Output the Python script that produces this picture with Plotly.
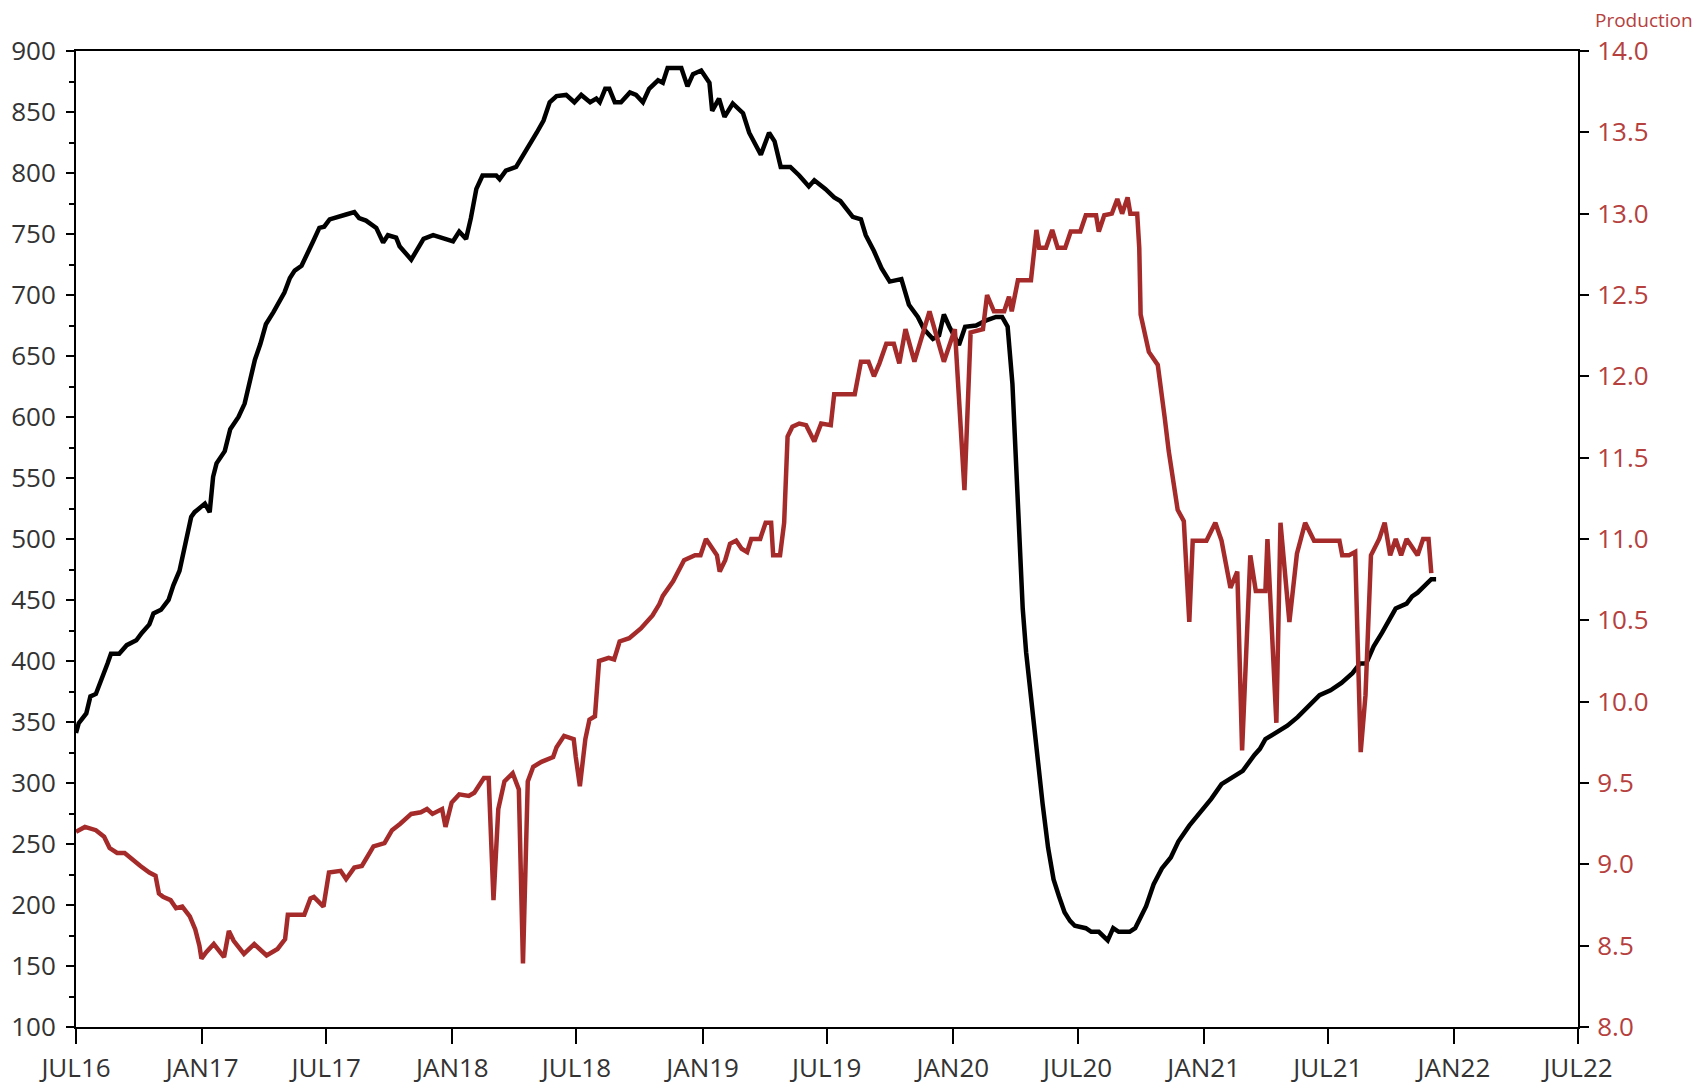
import plotly.graph_objects as go

# ---- Data ----
rig_dates = [
    "2016-07-01", "2016-07-05", "2016-07-16", "2016-07-22", "2016-07-30", "2016-08-08", "2016-08-16",
    "2016-08-21", "2016-09-02", "2016-09-13", "2016-09-27", "2016-10-05", "2016-10-16", "2016-10-22",
    "2016-11-02", "2016-11-13", "2016-11-20", "2016-11-29", "2016-12-07", "2016-12-16", "2016-12-21",
    "2017-01-05", "2017-01-12", "2017-01-17", "2017-01-22", "2017-02-03", "2017-02-11", "2017-02-23",
    "2017-03-04", "2017-03-11", "2017-03-19", "2017-03-27", "2017-04-04", "2017-04-15", "2017-04-24",
    "2017-05-01", "2017-05-09", "2017-05-16", "2017-05-26", "2017-06-02", "2017-06-12", "2017-06-21",
    "2017-06-28", "2017-07-06", "2017-07-16", "2017-07-30", "2017-08-11", "2017-08-18", "2017-08-28",
    "2017-09-12", "2017-09-22", "2017-09-29", "2017-10-11", "2017-10-16", "2017-11-02", "2017-11-20",
    "2017-12-04", "2018-01-02", "2018-01-11", "2018-01-21", "2018-01-28", "2018-02-05", "2018-02-14",
    "2018-03-06", "2018-03-11", "2018-03-20", "2018-04-04", "2018-04-21", "2018-05-04", "2018-05-14",
    "2018-05-23", "2018-06-02", "2018-06-16", "2018-06-28", "2018-07-08", "2018-07-21", "2018-07-30",
    "2018-08-04", "2018-08-12", "2018-08-18", "2018-08-26", "2018-09-04", "2018-09-17", "2018-09-26",
    "2018-10-06", "2018-10-15", "2018-10-28", "2018-11-04", "2018-11-11", "2018-11-24", "2018-12-01",
    "2018-12-10", "2018-12-18", "2018-12-30", "2019-01-11", "2019-01-15", "2019-01-25", "2019-02-02",
    "2019-02-14", "2019-03-01", "2019-03-10", "2019-03-27", "2019-04-08", "2019-04-16", "2019-04-25",
    "2019-05-09", "2019-05-22", "2019-06-05", "2019-06-13", "2019-06-29", "2019-07-12", "2019-07-21",
    "2019-08-08", "2019-08-20", "2019-08-27", "2019-09-08", "2019-09-19", "2019-10-01", "2019-10-18",
    "2019-10-29", "2019-11-11", "2019-11-20", "2019-12-03", "2019-12-12", "2019-12-19", "2019-12-27",
    "2020-01-10", "2020-01-19", "2020-02-04", "2020-02-18", "2020-03-04", "2020-03-13", "2020-03-21",
    "2020-03-28", "2020-04-02", "2020-04-06", "2020-04-12", "2020-04-17", "2020-04-25", "2020-05-03",
    "2020-05-11", "2020-05-19", "2020-05-27", "2020-06-04", "2020-06-12", "2020-06-20", "2020-06-27",
    "2020-07-13", "2020-07-21", "2020-08-01", "2020-08-14", "2020-08-22", "2020-08-30", "2020-09-15",
    "2020-09-23", "2020-10-01", "2020-10-09", "2020-10-20", "2020-11-01", "2020-11-14", "2020-11-25",
    "2020-12-11", "2020-12-27", "2021-01-12", "2021-01-27", "2021-02-12", "2021-02-27", "2021-03-16",
    "2021-03-24", "2021-04-01", "2021-04-17", "2021-05-03", "2021-05-18", "2021-06-03", "2021-06-19",
    "2021-07-05", "2021-07-21", "2021-08-06", "2021-08-17", "2021-08-26", "2021-09-06", "2021-09-18",
    "2021-09-30", "2021-10-08", "2021-10-24", "2021-11-01", "2021-11-09", "2021-11-20", "2021-11-29",
    "2021-12-06",
]
rig_count = [
    341, 349, 357, 371, 373, 385, 398,
    406, 406, 413, 417, 423, 430, 439,
    442, 450, 462, 474, 496, 518, 522,
    529, 522, 551, 562, 572, 590, 600,
    611, 629, 647, 660, 676, 686, 695,
    702, 714, 720, 724, 733, 744, 755,
    756, 762, 764, 766, 768, 763, 761,
    755, 743, 749, 747, 740, 729, 746,
    749, 744, 752, 746, 763, 787, 798,
    798, 795, 802, 805, 820, 833, 843,
    858, 863, 864, 858, 864, 858, 861,
    858, 869, 869, 858, 858, 866, 864,
    858, 869, 876, 874, 886, 886, 886,
    871, 881, 884, 874, 851, 861, 846,
    857, 849, 833, 815, 833, 826, 805,
    805, 798, 789, 794, 787, 780, 777,
    764, 762, 749, 736, 722, 711, 713,
    692, 682, 672, 664, 667, 684, 674,
    659, 674, 675, 679, 682, 682, 674,
    627, 567, 505, 443, 407, 363, 318,
    283, 247, 221, 207, 194, 187, 183,
    181, 178, 178, 171, 181, 178, 178,
    181, 190, 199, 217, 230, 239, 252,
    265, 276, 287, 299, 305, 310, 323,
    328, 336, 341, 347, 354, 363, 372,
    376, 382, 390, 398, 398, 412, 423,
    434, 443, 447, 453, 456, 462, 467,
    467,
]

prod_dates = [
    "2016-07-01", "2016-07-14", "2016-07-30", "2016-08-11", "2016-08-19", "2016-08-30", "2016-09-10",
    "2016-09-21", "2016-10-03", "2016-10-16", "2016-10-25", "2016-10-30", "2016-11-05", "2016-11-16",
    "2016-11-24", "2016-12-03", "2016-12-14", "2016-12-22", "2016-12-28", "2016-12-31", "2017-01-07",
    "2017-01-18", "2017-02-02", "2017-02-09", "2017-02-16", "2017-03-03", "2017-03-18", "2017-04-05",
    "2017-04-21", "2017-05-02", "2017-05-06", "2017-05-30", "2017-06-08", "2017-06-13", "2017-06-27",
    "2017-07-05", "2017-07-22", "2017-07-30", "2017-08-11", "2017-08-22", "2017-09-02", "2017-09-08",
    "2017-09-24", "2017-10-05", "2017-10-17", "2017-11-02", "2017-11-16", "2017-11-25", "2017-12-03",
    "2017-12-17", "2017-12-22", "2017-12-31", "2018-01-11", "2018-01-25", "2018-02-02", "2018-02-08",
    "2018-02-16", "2018-02-23", "2018-03-02", "2018-03-09", "2018-03-18", "2018-03-30", "2018-04-08",
    "2018-04-14", "2018-04-21", "2018-04-29", "2018-05-11", "2018-05-28", "2018-06-02", "2018-06-13",
    "2018-06-27", "2018-06-30", "2018-07-06", "2018-07-14", "2018-07-20", "2018-07-28", "2018-08-03",
    "2018-08-17", "2018-08-25", "2018-09-02", "2018-09-16", "2018-10-03", "2018-10-20", "2018-10-30",
    "2018-11-04", "2018-11-19", "2018-12-05", "2018-12-21", "2018-12-29", "2019-01-06", "2019-01-14",
    "2019-01-22", "2019-01-26", "2019-02-03", "2019-02-10", "2019-02-19", "2019-02-27", "2019-03-07",
    "2019-03-13", "2019-03-26", "2019-04-03", "2019-04-11", "2019-04-14", "2019-04-24", "2019-04-30",
    "2019-05-05", "2019-05-12", "2019-05-22", "2019-06-01", "2019-06-13", "2019-06-23", "2019-07-07",
    "2019-07-12", "2019-08-11", "2019-08-20", "2019-08-31", "2019-09-08", "2019-09-16", "2019-09-26",
    "2019-10-07", "2019-10-15", "2019-10-24", "2019-11-06", "2019-11-28", "2019-12-19", "2020-01-04",
    "2020-01-18", "2020-01-27", "2020-02-14", "2020-02-20", "2020-03-01", "2020-03-16", "2020-03-23",
    "2020-03-27", "2020-04-05", "2020-04-24", "2020-05-02", "2020-05-06", "2020-05-16", "2020-05-25",
    "2020-06-02", "2020-06-13", "2020-06-21", "2020-07-05", "2020-07-13", "2020-07-28", "2020-08-01",
    "2020-08-09", "2020-08-20", "2020-08-28", "2020-09-04", "2020-09-12", "2020-09-16", "2020-09-26",
    "2020-09-29", "2020-10-01", "2020-10-13", "2020-10-26", "2020-11-05", "2020-11-11", "2020-11-24",
    "2020-12-03", "2020-12-11", "2020-12-16", "2021-01-05", "2021-01-18", "2021-01-27", "2021-02-09",
    "2021-02-19", "2021-02-26", "2021-03-10", "2021-03-18", "2021-04-01", "2021-04-04", "2021-04-17",
    "2021-04-23", "2021-05-06", "2021-05-17", "2021-05-29", "2021-06-11", "2021-07-18", "2021-07-22",
    "2021-08-01", "2021-08-10", "2021-08-18", "2021-08-25", "2021-09-02", "2021-09-14", "2021-09-22",
    "2021-09-30", "2021-10-08", "2021-10-16", "2021-10-24", "2021-11-09", "2021-11-17", "2021-11-25",
    "2021-11-29",
]
prod_values = [
    9.20, 9.23, 9.21, 9.17, 9.10, 9.07, 9.07,
    9.03, 8.99, 8.95, 8.93, 8.82, 8.80, 8.78,
    8.73, 8.74, 8.68, 8.60, 8.50, 8.42, 8.46,
    8.51, 8.43, 8.59, 8.53, 8.45, 8.51, 8.44,
    8.48, 8.54, 8.69, 8.69, 8.79, 8.80, 8.74,
    8.95, 8.96, 8.91, 8.98, 8.99, 9.07, 9.11,
    9.13, 9.21, 9.25, 9.31, 9.32, 9.34, 9.31,
    9.34, 9.23, 9.38, 9.43, 9.42, 9.44, 9.48,
    9.53, 9.53, 8.78, 9.34, 9.51, 9.56, 9.46,
    8.39, 9.51, 9.60, 9.63, 9.66, 9.72, 9.79,
    9.77, 9.66, 9.48, 9.77, 9.89, 9.91, 10.25,
    10.27, 10.26, 10.37, 10.39, 10.45, 10.53, 10.60,
    10.65, 10.74, 10.87, 10.90, 10.90, 11.00, 10.95,
    10.90, 10.80, 10.87, 10.97, 10.99, 10.94, 10.92,
    11.00, 11.00, 11.10, 11.10, 10.90, 10.90, 11.10,
    11.63, 11.69, 11.71, 11.70, 11.60, 11.71, 11.70,
    11.89, 11.89, 12.09, 12.09, 12.00, 12.08, 12.20,
    12.20, 12.08, 12.29, 12.09, 12.40, 12.09, 12.29,
    11.30, 12.27, 12.29, 12.50, 12.40, 12.40, 12.49,
    12.40, 12.59, 12.59, 12.90, 12.79, 12.79, 12.90,
    12.79, 12.79, 12.89, 12.89, 12.99, 12.99, 12.89,
    12.99, 13.00, 13.09, 13.00, 13.10, 13.00, 13.00,
    12.79, 12.38, 12.15, 12.07, 11.75, 11.54, 11.18,
    11.11, 10.49, 10.99, 10.99, 11.10, 10.99, 10.70,
    10.80, 9.70, 10.90, 10.68, 10.68, 11.00, 9.87,
    11.10, 10.49, 10.91, 11.10, 10.99, 10.99, 10.90,
    10.90, 10.92, 9.69, 10.04, 10.90, 11.00, 11.10,
    10.90, 11.00, 10.90, 11.00, 10.90, 11.00, 11.00,
    10.79,
]

x_tick_dates = ["2016-07-01", "2017-01-01", "2017-07-01", "2018-01-01", "2018-07-01", "2019-01-01",
                "2019-07-01", "2020-01-01", "2020-07-01", "2021-01-01", "2021-07-01", "2022-01-01",
                "2022-07-01"]
x_tick_labels = ["JUL16", "JAN17", "JUL17", "JAN18", "JUL18", "JAN19", "JUL19", "JAN20", "JUL20",
                 "JAN21", "JUL21", "JAN22", "JUL22"]
left_ticks = list(range(100, 901, 50))
right_ticks = [8.0, 8.5, 9.0, 9.5, 10.0, 10.5, 11.0, 11.5, 12.0, 12.5, 13.0, 13.5, 14.0]

RED = "#a52a2a"
RED_TEXT = "#b5403d"
FONT = "Open Sans"

fig = go.Figure()
fig.add_trace(go.Scatter(x=rig_dates, y=rig_count, mode="lines", name="Rig count",
                         line=dict(color="#000000", width=4.5), yaxis="y"))
fig.add_trace(go.Scatter(x=prod_dates, y=prod_values, mode="lines", name="Production",
                         line=dict(color=RED, width=4.5), yaxis="y2"))

fig.update_layout(
    width=1704, height=1088,
    margin=dict(l=68, r=134, t=43, b=69),
    paper_bgcolor="white", plot_bgcolor="white",
    showlegend=False,
    font=dict(family=FONT, size=26, color="#333333"),
    xaxis=dict(
        type="date", range=["2016-07-01", "2022-07-01"], automargin=False,
        tickmode="array", tickvals=x_tick_dates, ticktext=x_tick_labels,
        showgrid=False, zeroline=False,
        showline=True, linecolor="black", linewidth=2, mirror=True,
        ticks="outside", ticklen=15, tickwidth=2, tickcolor="black",
        tickfont=dict(family=FONT, size=26, color="#333333"),
        ticklabelstandoff=2,
    ),
    yaxis=dict(
        range=[100, 900], tickmode="array", tickvals=left_ticks, automargin=False,
        showgrid=False, zeroline=False,
        showline=True, linecolor="black", linewidth=2,
        ticks="outside", ticklen=8, tickwidth=2, tickcolor="black",
        minor=dict(dtick=25, ticks="outside", ticklen=5, tickwidth=1.5, tickcolor="black", showgrid=False),
        tickfont=dict(family=FONT, size=26, color="#333333"),
        ticklabelstandoff=5,
    ),
    yaxis2=dict(
        range=[8, 14], tickmode="array", tickvals=right_ticks, tickformat=".1f", automargin=False,
        overlaying="y", side="right", anchor="x",
        showgrid=False, zeroline=False,
        showline=True, linecolor="black", linewidth=2,
        ticks="outside", ticklen=9, tickwidth=2, tickcolor="black",
        tickfont=dict(family=FONT, size=26, color=RED_TEXT),
        ticklabelstandoff=3,
    ),
    annotations=[dict(
        text="Production", xref="paper", yref="paper", x=1.01, y=1.0,
        xanchor="left", yanchor="middle", yshift=31, showarrow=False,
        font=dict(family=FONT, size=19, color=RED_TEXT),
    )],
)

fig.write_html("out.html")
